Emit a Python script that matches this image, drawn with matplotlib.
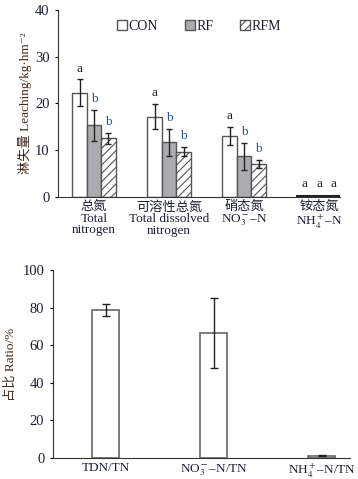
import matplotlib
matplotlib.use("Agg")
import matplotlib.pyplot as plt
import numpy as np

plt.rcParams['font.family'] = ['Liberation Serif', 'Noto Sans CJK SC', 'DejaVu Serif']
plt.rcParams['mathtext.fontset'] = 'stix'
plt.rcParams['hatch.linewidth'] = 0.8

# ---- data: leaching (top panel) ----
groups = ["总氮\nTotal\nnitrogen",
          "可溶性总氮\nTotal dissolved\nnitrogen",
          "硝态氮\nNO$_3^-$–N",
          "铵态氮\nNH$_4^+$–N"]
con_vals = [22.3, 17.2, 13.0, 0.25]
con_err = [2.9, 2.7, 2.0, 0.05]
rf_vals = [15.3, 11.7, 8.7, 0.25]
rf_err = [3.4, 2.9, 2.9, 0.05]
rfm_vals = [12.5, 9.7, 7.1, 0.25]
rfm_err = [1.2, 1.0, 0.85, 0.05]
con_sig = ["a", "a", "a", "a"]
rf_sig = ["b", "b", "b", "a"]
rfm_sig = ["b", "b", "b", "a"]

# ---- data: ratio (bottom panel) ----
ratio_labels = ["TDN/TN", "NO$_3^-$–N/TN", "NH$_4^+$–N/TN"]
ratio_vals = [78.8, 66.5, 1.2]
ratio_err = [3.2, 18.7, 0.4]

txt = '#1c1f33'
lab = '#3d2b1f'
edge = '#555555'

fig = plt.figure(figsize=(3.58, 4.79), dpi=100)

# top panel
ax1 = fig.add_axes([0.162, 0.589, 0.788, 0.390])
x = np.arange(len(groups))
w = 0.193
ekw = dict(elinewidth=1.0, capthick=1.0, ecolor='#222222')
series = [(con_vals, con_err, con_sig, 'white', '', 'CON'),
          (rf_vals, rf_err, rf_sig, '#ababb0', '', 'RF'),
          (rfm_vals, rfm_err, rfm_sig, 'white', '////', 'RFM')]
for i, (v, e, s, fc, h, name) in enumerate(series):
    pos = x + (i - 1) * w
    ax1.bar(pos, v, w, color=fc, edgecolor=edge, hatch=h, linewidth=1.0, label=name)
    ax1.errorbar(pos[:3], v[:3], yerr=e[:3], fmt='none', capsize=2.3, **ekw)
    for j in range(len(pos)):
        top = v[j] + e[j] + 1.0 if j < 3 else 1.4
        col = '#2b55a0' if s[j] == 'b' else '#2a2218'
        ax1.text(pos[j], top, s[j], ha='center', va='bottom', fontsize=9.5, color=col)
# small ammonium bars drawn as a dark line
ax1.plot([x[3] - 1.5 * w, x[3] + 1.5 * w], [0.15, 0.15], color='#222222', lw=2.2)

ax1.set_xlim(-0.48, 3.28)
ax1.set_ylim(0, 40)
ax1.set_yticks([0, 10, 20, 30, 40])
ax1.set_xticks(x)
ax1.set_xticklabels(groups, fontsize=9.5, color=txt, linespacing=0.95)
ax1.tick_params(axis='x', length=0, pad=3)
ax1.tick_params(axis='y', length=2.5, width=0.8, labelsize=10.5, labelcolor=txt, direction='out')
ax1.spines['top'].set_visible(False)
ax1.spines['right'].set_visible(False)
ax1.spines['left'].set_color('#333333')
ax1.spines['bottom'].set_color('#333333')
ax1.set_ylabel("淋失量 Leaching/kg·hm⁻²", fontsize=9.5, color=lab, labelpad=2)
leg = ax1.legend(loc='upper center', bbox_to_anchor=(0.50, 1.0), ncol=3, frameon=False,
                 fontsize=10, handlelength=0.75, handleheight=0.75, handletextpad=0.1,
                 columnspacing=1.9, borderaxespad=0.3)
for t in leg.get_texts():
    t.set_color(txt)

# bottom panel
ax2 = fig.add_axes([0.147, 0.044, 0.830, 0.392])
x2 = np.arange(len(ratio_labels))
ax2.bar(x2, ratio_vals, 0.25, color='white', edgecolor='#666666', linewidth=1.2)
ax2.errorbar(x2, ratio_vals, yerr=ratio_err, fmt='none', capsize=3, **ekw)
ax2.set_xlim(-0.49, 2.26)
ax2.set_ylim(0, 100)
ax2.set_yticks([0, 20, 40, 60, 80, 100])
ax2.set_xticks(x2)
ax2.set_xticklabels(ratio_labels, fontsize=9.5, color=txt)
ax2.tick_params(axis='x', length=0, pad=3)
ax2.tick_params(axis='y', length=2.5, width=0.8, labelsize=10.5, labelcolor=txt, direction='out')
ax2.spines['top'].set_visible(False)
ax2.spines['right'].set_visible(False)
ax2.spines['left'].set_color('#333333')
ax2.spines['bottom'].set_color('#333333')
ax2.set_ylabel("占比 Ratio/%", fontsize=9.5, color=lab, labelpad=4)

fig.savefig("out.png", dpi=100)
